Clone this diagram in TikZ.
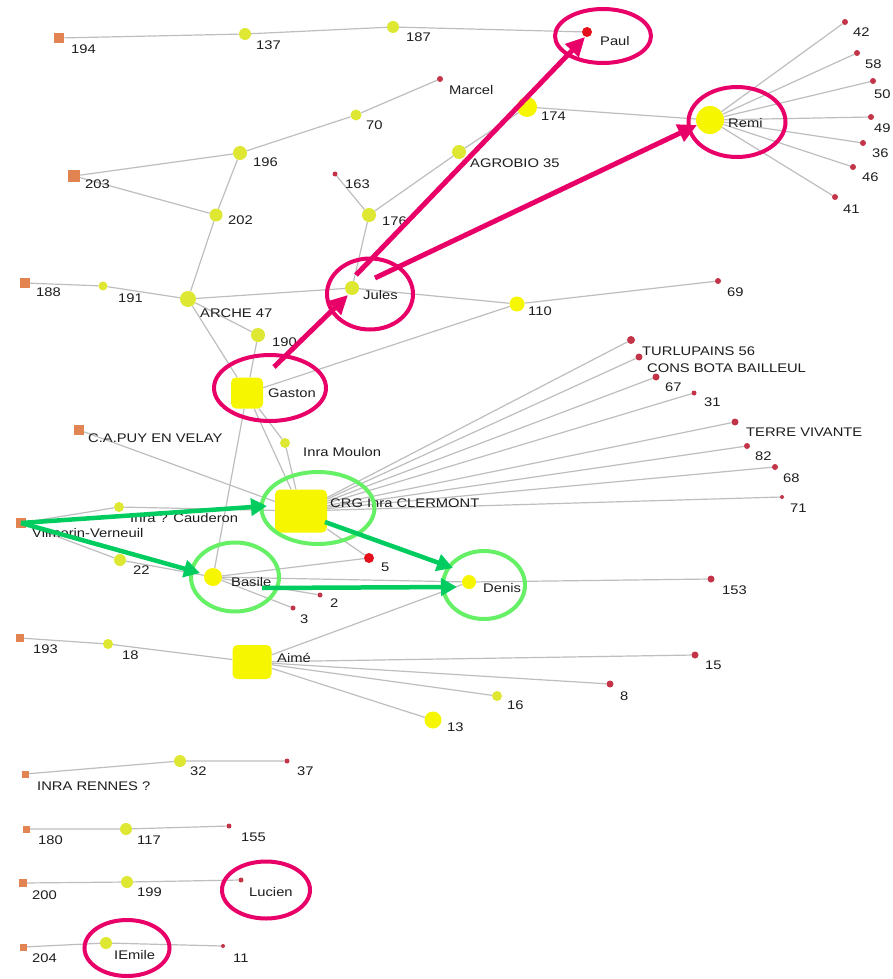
\documentclass[tikz,border=0pt]{standalone}
\usepackage{fontspec}
\setmainfont{Liberation Sans}[FakeStretch=1.18]
\usetikzlibrary{shapes.geometric,arrows.meta}
\definecolor{edgegray}{RGB}{190,190,190}
\definecolor{ybig}{RGB}{246,246,0}
\definecolor{ysmall}{RGB}{222,232,50}
\definecolor{orangeN}{RGB}{226,132,82}
\definecolor{redN}{RGB}{196,52,72}
\definecolor{redB}{RGB}{228,16,28}
\definecolor{labtext}{RGB}{30,30,30}
\definecolor{magentaA}{RGB}{232,0,104}
\definecolor{greenE}{RGB}{102,240,102}
\definecolor{greenA}{RGB}{0,204,96}
\pgfdeclarelayer{bg}
\pgfsetlayers{bg,main}
\begin{document}
\begin{tikzpicture}[x=1pt,y=-1pt,
  edge/.style={draw=edgegray, line width=1.2pt},
  ys/.style={circle, fill=ysmall, inner sep=0pt, minimum size=#1},
  yb/.style={circle, fill=ybig, inner sep=0pt, minimum size=#1},
  ysq/.style={rectangle, rounded corners=5pt, fill=ybig, inner sep=0pt},
  osq/.style={rectangle, fill=orangeN, inner sep=0pt, minimum size=#1},
  rn/.style={circle, fill=redN, inner sep=0pt, minimum size=#1},
  rb/.style={circle, fill=redB, inner sep=0pt, minimum size=#1},
  lab/.style={anchor=west, inner sep=0pt, text=labtext, font=\fontsize{12.5}{14}\selectfont},
  magell/.style={ellipse, draw=magentaA, line width=4pt, inner sep=0pt},
  greenell/.style={ellipse, draw=greenE, line width=4pt, inner sep=0pt},
  magarrow/.style={draw=magentaA, line width=5pt, -{Triangle[length=19pt,width=18pt]}},
  greenarrow/.style={draw=greenA, line width=4.5pt, -{Triangle[length=16pt,width=17pt]}}
]
\useasboundingbox (0,0) rectangle (892,979);
\begin{pgfonlayer}{bg}
\fill[white] (0,0) rectangle (892,979);
\end{pgfonlayer}

% ---------- nodes ----------
\node[osq=10] (n194) at (59,38) {};
\node[ys=12] (n137) at (245,34) {};
\node[ys=12] (n187) at (393,27) {};
\node[rb=10] (nPaul) at (587,32) {};
\node[rn=6] (nMarcel) at (440,79) {};
\node[ys=11] (n70) at (356,115) {};
\node[ys=14] (n196) at (240,153) {};
\node[osq=12] (n203) at (74,176) {};
\node[ys=13] (n202) at (216,215) {};
\node[rn=5] (n163) at (335,174) {};
\node[ys=14] (n176) at (369,215) {};
\node[ys=14] (nAgro) at (459,152) {};
\node[yb=20] (n174) at (527,107) {};
\node[yb=28] (nRemi) at (710,120) {};
\node[rn=6] (n42) at (845,22) {};
\node[rn=6] (n58) at (857,53) {};
\node[rn=6] (n50) at (873,81) {};
\node[rn=6] (n49) at (871,117) {};
\node[rn=6] (n36) at (863,143) {};
\node[rn=6] (n46) at (853,167) {};
\node[rn=6] (n41) at (835,197) {};
\node[osq=10] (n188) at (25,283) {};
\node[ys=9] (n191) at (103,286) {};
\node[ys=16] (nArche) at (188,299) {};
\node[ys=14] (n190) at (258,335) {};
\node[ys=14] (nJules) at (352,288) {};
\node[yb=15] (n110) at (517,304) {};
\node[rn=6] (n69) at (718,281) {};
\node[ysq, minimum width=32pt, minimum height=31pt] (nGaston) at (247,393) {};
\node[osq=10] (nPuy) at (79,430) {};
\node[ys=10] (nMoulon) at (285,443) {};
\node[ysq, minimum width=52pt, minimum height=43pt] (nCRG) at (301,511) {};
\node[rn=8] (nTurl) at (631,340) {};
\node[rn=7] (nCons) at (639,357) {};
\node[rn=7] (n67) at (656,377) {};
\node[rn=5] (n31) at (694,393) {};
\node[rn=7] (nTerre) at (735,422) {};
\node[rn=6] (n82) at (747,446) {};
\node[rn=6] (n68) at (775,467) {};
\node[rn=4] (n71) at (782,497) {};
\node[osq=10] (nVal) at (21,523) {};
\node[ys=10] (nCaud) at (119,507) {};
\node[ys=12] (n22) at (120,560) {};
\node[yb=18] (nBasile) at (213,577) {};
\node[rb=10] (n5) at (369,558) {};
\node[rn=5] (n2) at (320,595) {};
\node[rn=5] (n3) at (293,608) {};
\node[yb=14] (nDenis) at (469,582) {};
\node[rn=7] (n153) at (711,579) {};
\node[osq=8] (n193) at (20,638) {};
\node[ys=10] (n18) at (108,644) {};
\node[ysq, minimum width=39pt, minimum height=34pt] (nAime) at (252,662) {};
\node[rn=7] (n15) at (695,655) {};
\node[rn=7] (n8) at (610,684) {};
\node[ys=10] (n16) at (497,696) {};
\node[yb=17] (n13) at (433,720) {};
\node[osq=7] (nRennes) at (25,774) {};
\node[ys=12] (n32) at (180,761) {};
\node[rn=5] (n37) at (287,761) {};
\node[osq=7] (n180) at (26,829) {};
\node[ys=12] (n117) at (126,829) {};
\node[rn=5] (n155) at (229,826) {};
\node[osq=8] (n200) at (23,883) {};
\node[ys=12] (n199) at (127,882) {};
\node[rn=5] (nLucien) at (241,880) {};
\node[osq=7] (n204) at (23,947) {};
\node[ys=12] (nEmile) at (106,943) {};
\node[rn=4] (n11) at (223,946) {};

% ---------- labels ----------
\node[lab] (l194) at (71,49) {194};
\node[lab] (l137) at (256,45) {137};
\node[lab] (l187) at (406,37) {187};
\node[lab] (lPaul) at (600,41) {Paul};
\node[lab] (lMarcel) at (449,90) {Marcel};
\node[lab] (l70) at (366,125) {70};
\node[lab] (l196) at (253,162) {196};
\node[lab] (l203) at (85,184) {203};
\node[lab] (l202) at (228,220) {202};
\node[lab] (l163) at (345,184) {163};
\node[lab] (l176) at (382,221) {176};
\node[lab] (lAgro) at (470,163) {AGROBIO 35};
\node[lab] (l174) at (541,116) {174};
\node[lab] (lRemi) at (728,123) {Remi};
\node[lab] (l42) at (853,32) {42};
\node[lab] (l58) at (865,64) {58};
\node[lab] (l50) at (874,94) {50};
\node[lab] (l49) at (874,128) {49};
\node[lab] (l36) at (872,153) {36};
\node[lab] (l46) at (862,177) {46};
\node[lab] (l41) at (843,209) {41};
\node[lab] (l188) at (36,292) {188};
\node[lab] (l191) at (118,298) {191};
\node[lab] (lArche) at (200,313) {ARCHE 47};
\node[lab] (l190) at (272,342) {190};
\node[lab] (lJules) at (363,295) {Jules};
\node[lab] (l110) at (528,311) {110};
\node[lab] (l69) at (727,292) {69};
\node[lab] (lGaston) at (268,393) {Gaston};
\node[lab] (lPuy) at (88,438) {C.A.PUY EN VELAY};
\node[lab] (lMoulon) at (303,452) {Inra Moulon};
\node[lab] (lCRG) at (330,503) {CRG Inra CLERMONT};
\node[lab] (lTurl) at (642,351) {TURLUPAINS 56};
\node[lab] (lCons) at (647,368) {CONS BOTA BAILLEUL};
\node[lab] (l67) at (665,387) {67};
\node[lab] (l31) at (704,402) {31};
\node[lab] (lTerre) at (746,432) {TERRE VIVANTE};
\node[lab] (l82) at (755,456) {82};
\node[lab] (l68) at (783,478) {68};
\node[lab] (l71) at (790,508) {71};
\node[lab] (lVal) at (32,533) {Vilmorin-Verneuil};
\node[lab] (lCaud) at (130,518) {Inra ? Cauderon};
\node[lab] (l22) at (133,570) {22};
\node[lab] (lBasile) at (231,582) {Basile};
\node[lab] (l5) at (381,567) {5};
\node[lab] (l2) at (330,603) {2};
\node[lab] (l3) at (300,619) {3};
\node[lab] (lDenis) at (483,588) {Denis};
\node[lab] (l153) at (722,590) {153};
\node[lab] (l193) at (33,649) {193};
\node[lab] (l18) at (122,655) {18};
\node[lab] (lAime) at (277,658) {Aimé};
\node[lab] (l15) at (705,665) {15};
\node[lab] (l8) at (620,696) {8};
\node[lab] (l16) at (507,705) {16};
\node[lab] (l13) at (447,727) {13};
\node[lab] (lRennes) at (37,786) {INRA RENNES ?};
\node[lab] (l32) at (190,771) {32};
\node[lab] (l37) at (297,771) {37};
\node[lab] (l180) at (38,840) {180};
\node[lab] (l117) at (137,840) {117};
\node[lab] (l155) at (241,837) {155};
\node[lab] (l200) at (32,895) {200};
\node[lab] (l199) at (137,892) {199};
\node[lab] (lLucien) at (249,892) {Lucien};
\node[lab] (l204) at (32,958) {204};
\node[lab] (lEmile) at (114,955) {IEmile};
\node[lab] (l11) at (233,958) {11};

% ---------- edges ----------
\begin{pgfonlayer}{bg}
\draw[edge] (n194) -- (n137) -- (n187) -- (nPaul);
\draw[edge] (nMarcel) -- (n70) -- (n196) -- (n203) -- (n202) -- (n196);
\draw[edge] (n202) -- (nArche);
\draw[edge] (n163) -- (n176) -- (nAgro) -- (n174) -- (nRemi);
\draw[edge] (n176) -- (nJules);
\foreach \t in {n42,n58,n50,n49,n36,n46,n41} \draw[edge] (nRemi) -- (\t);
\draw[edge] (n188) -- (n191) -- (nArche) -- (nJules) -- (n110) -- (n69);
\draw[edge] (nArche) -- (n190) -- (nGaston);
\draw[edge] (nArche) -- (nGaston);
\draw[edge] (nGaston) -- (n110);
\draw[edge] (nGaston) -- (nMoulon) -- (nCRG);
\draw[edge] (nGaston) -- (nCRG);
\draw[edge] (nGaston) -- (nBasile);
\draw[edge] (nPuy) -- (nCRG);
\foreach \t in {nTurl,nCons,n67,n31,nTerre,n82,n68,n71} \draw[edge] (nCRG) -- (\t);
\draw[edge] (nVal) -- (nCaud) -- (nCRG);
\draw[edge] (nVal) -- (n22) -- (nBasile);
\draw[edge] (nCRG) -- (n5) -- (nBasile);
\draw[edge] (nBasile) -- (n2);
\draw[edge] (nBasile) -- (n3);
\draw[edge] (nBasile) -- (nDenis) -- (n153);
\draw[edge] (nAime) -- (nDenis);
\draw[edge] (n193) -- (n18) -- (nAime);
\foreach \t in {n15,n8,n16,n13} \draw[edge] (nAime) -- (\t);
\draw[edge] (nRennes) -- (n32) -- (n37);
\draw[edge] (n180) -- (n117) -- (n155);
\draw[edge] (n200) -- (n199) -- (nLucien);
\draw[edge] (n204) -- (nEmile) -- (n11);
\end{pgfonlayer}

% ---------- annotation ellipses ----------
\node[magell, minimum width=96pt, minimum height=54pt] (ePaul) at (603,36) {};
\node[magell, minimum width=97pt, minimum height=70pt] (eRemi) at (737,122) {};
\node[magell, minimum width=86pt, minimum height=71pt] (eJules) at (370,294) {};
\node[magell, minimum width=112pt, minimum height=66pt] (eGaston) at (270,388) {};
\node[magell, minimum width=88pt, minimum height=57pt] (eLucien) at (266,890) {};
\node[magell, minimum width=85pt, minimum height=56pt] (eEmile) at (127,948) {};
\node[greenell, minimum width=113pt, minimum height=72pt] (eCRG) at (318,508) {};
\node[greenell, minimum width=88pt, minimum height=69pt] (eBasile) at (235,577) {};
\node[greenell, minimum width=82pt, minimum height=68pt] (eDenis) at (484,585) {};

% ---------- annotation arrows ----------
\coordinate (mGs) at (274,367);
\coordinate (mJt) at (348,295);
\coordinate (mJs1) at (356,275);
\coordinate (mPt) at (585,37);
\coordinate (mJs2) at (375,278);
\coordinate (mRt) at (697,125);
\draw[magarrow] (mGs) -- (mJt);
\draw[magarrow] (mJs1) -- (mPt);
\draw[magarrow] (mJs2) -- (mRt);

\coordinate (gCt) at (267,506);
\coordinate (gBt) at (200,573);
\coordinate (gCs) at (325,522);
\coordinate (gDt1) at (453,568);
\coordinate (gBs) at (262,588);
\coordinate (gDt2) at (457,587);
\draw[greenarrow] (nVal.center) -- (gCt);
\draw[greenarrow] (nVal.center) -- (gBt);
\draw[greenarrow] (gCs) -- (gDt1);
\draw[greenarrow] (gBs) -- (gDt2);
\end{tikzpicture}
\end{document}
